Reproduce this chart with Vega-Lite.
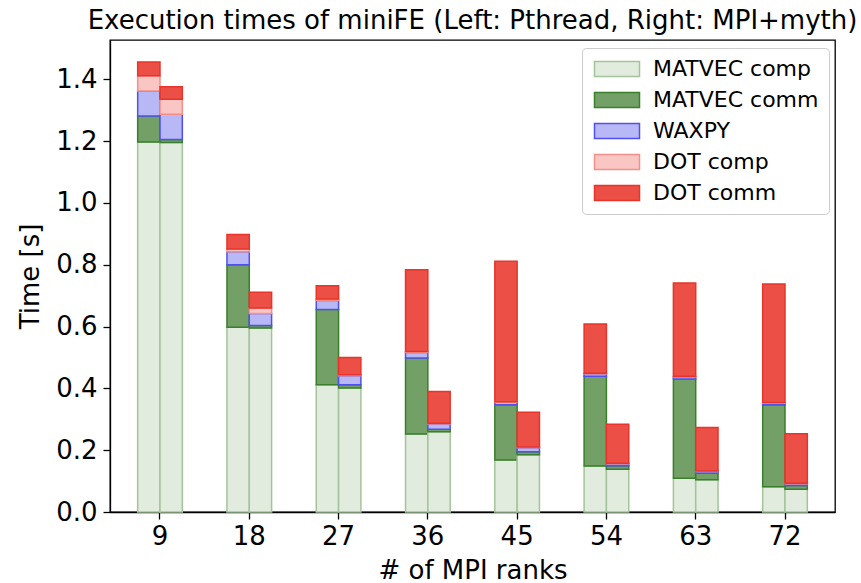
{
  "$schema": "https://vega.github.io/schema/vega-lite/v6.json",
  "width": 725,
  "height": 472,
  "autosize": "none",
  "padding": {"left": 110, "top": 40, "right": 26, "bottom": 71},
  "background": "white",
  "title": {"text": "Execution times of miniFE (Left: Pthread, Right: MPI+myth)", "fontSize": 26, "font": "DejaVu Sans", "fontWeight": "normal", "color": "black", "anchor": "middle", "offset": 6},
  "config": {
    "font": "DejaVu Sans",
    "view": {"stroke": "black", "strokeWidth": 1.3},
    "axis": {"grid": false, "domainColor": "black", "domainWidth": 1.3, "tickColor": "black", "tickWidth": 1.3, "tickSize": 7, "labelColor": "black", "labelFontSize": 26, "titleFontSize": 26, "titleFontWeight": "normal", "titleColor": "black", "labelFont": "DejaVu Sans", "titleFont": "DejaVu Sans"}
  },
  "data": {"values": [
    {"ranks": 9, "impl": "Pthread", "component": "MATVEC comp", "level": 1, "time": 1.197},
    {"ranks": 9, "impl": "Pthread", "component": "MATVEC comm", "level": 2, "time": 0.084},
    {"ranks": 9, "impl": "Pthread", "component": "WAXPY", "level": 3, "time": 0.081},
    {"ranks": 9, "impl": "Pthread", "component": "DOT comp", "level": 4, "time": 0.049},
    {"ranks": 9, "impl": "Pthread", "component": "DOT comm", "level": 5, "time": 0.045},
    {"ranks": 9, "impl": "MPI+myth", "component": "MATVEC comp", "level": 1, "time": 1.195},
    {"ranks": 9, "impl": "MPI+myth", "component": "MATVEC comm", "level": 2, "time": 0.010},
    {"ranks": 9, "impl": "MPI+myth", "component": "WAXPY", "level": 3, "time": 0.082},
    {"ranks": 9, "impl": "MPI+myth", "component": "DOT comp", "level": 4, "time": 0.048},
    {"ranks": 9, "impl": "MPI+myth", "component": "DOT comm", "level": 5, "time": 0.041},
    {"ranks": 18, "impl": "Pthread", "component": "MATVEC comp", "level": 1, "time": 0.598},
    {"ranks": 18, "impl": "Pthread", "component": "MATVEC comm", "level": 2, "time": 0.202},
    {"ranks": 18, "impl": "Pthread", "component": "WAXPY", "level": 3, "time": 0.042},
    {"ranks": 18, "impl": "Pthread", "component": "DOT comp", "level": 4, "time": 0.009},
    {"ranks": 18, "impl": "Pthread", "component": "DOT comm", "level": 5, "time": 0.047},
    {"ranks": 18, "impl": "MPI+myth", "component": "MATVEC comp", "level": 1, "time": 0.595},
    {"ranks": 18, "impl": "MPI+myth", "component": "MATVEC comm", "level": 2, "time": 0.008},
    {"ranks": 18, "impl": "MPI+myth", "component": "WAXPY", "level": 3, "time": 0.039},
    {"ranks": 18, "impl": "MPI+myth", "component": "DOT comp", "level": 4, "time": 0.018},
    {"ranks": 18, "impl": "MPI+myth", "component": "DOT comm", "level": 5, "time": 0.051},
    {"ranks": 27, "impl": "Pthread", "component": "MATVEC comp", "level": 1, "time": 0.412},
    {"ranks": 27, "impl": "Pthread", "component": "MATVEC comm", "level": 2, "time": 0.243},
    {"ranks": 27, "impl": "Pthread", "component": "WAXPY", "level": 3, "time": 0.029},
    {"ranks": 27, "impl": "Pthread", "component": "DOT comp", "level": 4, "time": 0.005},
    {"ranks": 27, "impl": "Pthread", "component": "DOT comm", "level": 5, "time": 0.043},
    {"ranks": 27, "impl": "MPI+myth", "component": "MATVEC comp", "level": 1, "time": 0.401},
    {"ranks": 27, "impl": "MPI+myth", "component": "MATVEC comm", "level": 2, "time": 0.011},
    {"ranks": 27, "impl": "MPI+myth", "component": "WAXPY", "level": 3, "time": 0.029},
    {"ranks": 27, "impl": "MPI+myth", "component": "DOT comp", "level": 4, "time": 0.003},
    {"ranks": 27, "impl": "MPI+myth", "component": "DOT comm", "level": 5, "time": 0.056},
    {"ranks": 36, "impl": "Pthread", "component": "MATVEC comp", "level": 1, "time": 0.252},
    {"ranks": 36, "impl": "Pthread", "component": "MATVEC comm", "level": 2, "time": 0.246},
    {"ranks": 36, "impl": "Pthread", "component": "WAXPY", "level": 3, "time": 0.018},
    {"ranks": 36, "impl": "Pthread", "component": "DOT comp", "level": 4, "time": 0.003},
    {"ranks": 36, "impl": "Pthread", "component": "DOT comm", "level": 5, "time": 0.265},
    {"ranks": 36, "impl": "MPI+myth", "component": "MATVEC comp", "level": 1, "time": 0.260},
    {"ranks": 36, "impl": "MPI+myth", "component": "MATVEC comm", "level": 2, "time": 0.008},
    {"ranks": 36, "impl": "MPI+myth", "component": "WAXPY", "level": 3, "time": 0.017},
    {"ranks": 36, "impl": "MPI+myth", "component": "DOT comp", "level": 4, "time": 0.002},
    {"ranks": 36, "impl": "MPI+myth", "component": "DOT comm", "level": 5, "time": 0.103},
    {"ranks": 45, "impl": "Pthread", "component": "MATVEC comp", "level": 1, "time": 0.168},
    {"ranks": 45, "impl": "Pthread", "component": "MATVEC comm", "level": 2, "time": 0.179},
    {"ranks": 45, "impl": "Pthread", "component": "WAXPY", "level": 3, "time": 0.008},
    {"ranks": 45, "impl": "Pthread", "component": "DOT comp", "level": 4, "time": 0.002},
    {"ranks": 45, "impl": "Pthread", "component": "DOT comm", "level": 5, "time": 0.454},
    {"ranks": 45, "impl": "MPI+myth", "component": "MATVEC comp", "level": 1, "time": 0.185},
    {"ranks": 45, "impl": "MPI+myth", "component": "MATVEC comm", "level": 2, "time": 0.010},
    {"ranks": 45, "impl": "MPI+myth", "component": "WAXPY", "level": 3, "time": 0.013},
    {"ranks": 45, "impl": "MPI+myth", "component": "DOT comp", "level": 4, "time": 0.002},
    {"ranks": 45, "impl": "MPI+myth", "component": "DOT comm", "level": 5, "time": 0.113},
    {"ranks": 54, "impl": "Pthread", "component": "MATVEC comp", "level": 1, "time": 0.149},
    {"ranks": 54, "impl": "Pthread", "component": "MATVEC comm", "level": 2, "time": 0.290},
    {"ranks": 54, "impl": "Pthread", "component": "WAXPY", "level": 3, "time": 0.008},
    {"ranks": 54, "impl": "Pthread", "component": "DOT comp", "level": 4, "time": 0.002},
    {"ranks": 54, "impl": "Pthread", "component": "DOT comm", "level": 5, "time": 0.159},
    {"ranks": 54, "impl": "MPI+myth", "component": "MATVEC comp", "level": 1, "time": 0.138},
    {"ranks": 54, "impl": "MPI+myth", "component": "MATVEC comm", "level": 2, "time": 0.012},
    {"ranks": 54, "impl": "MPI+myth", "component": "WAXPY", "level": 3, "time": 0.006},
    {"ranks": 54, "impl": "MPI+myth", "component": "DOT comp", "level": 4, "time": 0.002},
    {"ranks": 54, "impl": "MPI+myth", "component": "DOT comm", "level": 5, "time": 0.126},
    {"ranks": 63, "impl": "Pthread", "component": "MATVEC comp", "level": 1, "time": 0.109},
    {"ranks": 63, "impl": "Pthread", "component": "MATVEC comm", "level": 2, "time": 0.321},
    {"ranks": 63, "impl": "Pthread", "component": "WAXPY", "level": 3, "time": 0.007},
    {"ranks": 63, "impl": "Pthread", "component": "DOT comp", "level": 4, "time": 0.002},
    {"ranks": 63, "impl": "Pthread", "component": "DOT comm", "level": 5, "time": 0.302},
    {"ranks": 63, "impl": "MPI+myth", "component": "MATVEC comp", "level": 1, "time": 0.104},
    {"ranks": 63, "impl": "MPI+myth", "component": "MATVEC comm", "level": 2, "time": 0.021},
    {"ranks": 63, "impl": "MPI+myth", "component": "WAXPY", "level": 3, "time": 0.006},
    {"ranks": 63, "impl": "MPI+myth", "component": "DOT comp", "level": 4, "time": 0.002},
    {"ranks": 63, "impl": "MPI+myth", "component": "DOT comm", "level": 5, "time": 0.140},
    {"ranks": 72, "impl": "Pthread", "component": "MATVEC comp", "level": 1, "time": 0.082},
    {"ranks": 72, "impl": "Pthread", "component": "MATVEC comm", "level": 2, "time": 0.265},
    {"ranks": 72, "impl": "Pthread", "component": "WAXPY", "level": 3, "time": 0.005},
    {"ranks": 72, "impl": "Pthread", "component": "DOT comp", "level": 4, "time": 0.002},
    {"ranks": 72, "impl": "Pthread", "component": "DOT comm", "level": 5, "time": 0.384},
    {"ranks": 72, "impl": "MPI+myth", "component": "MATVEC comp", "level": 1, "time": 0.074},
    {"ranks": 72, "impl": "MPI+myth", "component": "MATVEC comm", "level": 2, "time": 0.012},
    {"ranks": 72, "impl": "MPI+myth", "component": "WAXPY", "level": 3, "time": 0.005},
    {"ranks": 72, "impl": "MPI+myth", "component": "DOT comp", "level": 4, "time": 0.002},
    {"ranks": 72, "impl": "MPI+myth", "component": "DOT comm", "level": 5, "time": 0.160}
  ]},
  "mark": {"type": "bar", "strokeWidth": 1.5},
  "encoding": {
    "x": {"field": "ranks", "type": "ordinal", "scale": {"paddingInner": 0, "paddingOuter": 0.06},
      "axis": {"title": "# of MPI ranks", "labelAngle": 0, "labelPadding": 4, "titlePadding": 8}},
    "xOffset": {"field": "impl", "type": "nominal", "sort": ["Pthread", "MPI+myth"], "scale": {"paddingInner": 0, "paddingOuter": 1.39}},
    "y": {"field": "time", "type": "quantitative", "stack": "zero", "scale": {"domain": [0, 1.527], "nice": false, "zero": true},
      "axis": {"title": "Time [s]", "values": [0, 0.2, 0.4, 0.6, 0.8, 1.0, 1.2, 1.4], "format": ".1f", "labelPadding": 6, "titlePadding": 12}},
    "order": {"field": "level", "type": "quantitative", "sort": "ascending"},
    "fill": {"field": "component", "type": "nominal", "sort": ["MATVEC comp", "MATVEC comm", "WAXPY", "DOT comp", "DOT comm"],
      "scale": {"domain": ["MATVEC comp", "MATVEC comm", "WAXPY", "DOT comp", "DOT comm"], "range": ["#e2ecde", "#72a066", "#b8b8f7", "#fac6c3", "#ec4f45"]},
      "legend": {"title": null, "orient": "none", "legendX": 472, "legendY": 8, "labelFontSize": 22, "labelLimit": 300, "labelColor": "black", "labelFont": "DejaVu Sans",
        "symbolType": "M-3,-1H3V1H-3Z", "symbolSize": 225, "symbolOffset": 14, "labelOffset": 25, "rowPadding": 9, "padding": 10,
        "fillColor": "white", "strokeColor": "#cccccc", "cornerRadius": 4, "symbolStrokeWidth": 1.5, "symbolOpacity": 1}},
    "stroke": {"field": "component", "type": "nominal", "sort": ["MATVEC comp", "MATVEC comm", "WAXPY", "DOT comp", "DOT comm"],
      "scale": {"domain": ["MATVEC comp", "MATVEC comm", "WAXPY", "DOT comp", "DOT comm"], "range": ["#a3c49a", "#3a7f2c", "#5050f0", "#f4908a", "#e8342b"]},
      "legend": {"title": null, "orient": "none", "legendX": 472, "legendY": 8, "labelFontSize": 22, "labelLimit": 300, "labelColor": "black", "labelFont": "DejaVu Sans",
        "symbolType": "M-3,-1H3V1H-3Z", "symbolSize": 225, "symbolOffset": 14, "labelOffset": 25, "rowPadding": 9, "padding": 10,
        "fillColor": "white", "strokeColor": "#cccccc", "cornerRadius": 4, "symbolStrokeWidth": 1.5, "symbolOpacity": 1}}
  }
}
